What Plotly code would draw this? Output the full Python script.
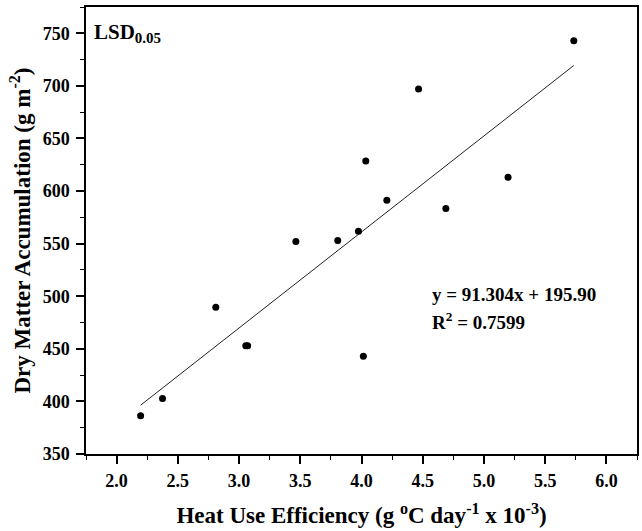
import plotly.graph_objects as go

# Data
heat_use_efficiency = [2.196, 2.375, 2.810, 3.055, 3.070, 3.464, 3.806, 3.975, 4.015, 4.035, 4.207, 4.466, 4.689, 5.197, 5.734]
dry_matter = [386.4, 402.8, 489.5, 453.0, 453.0, 552.0, 553.1, 561.8, 443.0, 628.5, 591.3, 697.0, 583.5, 613.1, 743.0]

# Regression line (from the equation shown in the chart)
fit_slope = 91.304
fit_intercept = 195.90
fit_x = [2.196, 5.734]
fit_y = [fit_slope * v + fit_intercept for v in fit_x]

x_ticks = [2.0, 2.5, 3.0, 3.5, 4.0, 4.5, 5.0, 5.5, 6.0]
y_ticks = [350, 400, 450, 500, 550, 600, 650, 700, 750]

FONT = "Liberation Serif"

fig = go.Figure()
fig.add_trace(go.Scatter(x=fit_x, y=fit_y, mode="lines",
                         line=dict(color="#222222", width=1), showlegend=False))
fig.add_trace(go.Scatter(x=heat_use_efficiency, y=dry_matter, mode="markers",
                         marker=dict(color="black", size=7), showlegend=False))

fig.add_annotation(x=0.011, xref="paper", y=750.7, yref="y",
                   text="<b>LSD<sub><span style='font-size:15px'>0.05</span></sub></b>", showarrow=False,
                   xanchor="left", yanchor="middle",
                   font=dict(family=FONT, size=21, color="black"))
fig.add_annotation(x=4.56, y=501.3, text="<b>y = 91.304x + 195.90</b>", showarrow=False,
                   xanchor="left", yanchor="middle",
                   font=dict(family=FONT, size=19, color="black"))
fig.add_annotation(x=4.56, y=476.6, text="<b>R<sup>2</sup> = 0.7599</b>", showarrow=False,
                   xanchor="left", yanchor="middle",
                   font=dict(family=FONT, size=19, color="black"))

axis_common = dict(showgrid=False, zeroline=False, showline=True, linecolor="black",
                   linewidth=1.5, mirror=True, ticks="outside", ticklen=8, tickwidth=1.5,
                   tickcolor="black",
                   tickfont=dict(family=FONT, size=18, color="black"))

fig.update_xaxes(range=[1.75, 6.25], tickvals=x_ticks,
                 ticktext=[f"<b>{v:.1f}</b>" for v in x_ticks],
                 ticklabelstandoff=2,
                 minor=dict(dtick=0.25, ticks="outside", ticklen=4, tickcolor="black", tickwidth=1.2),
                 title=dict(text="<b>Heat Use Efficiency (g <sup>o</sup>C day<sup>-1</sup> x 10<sup>-3</sup>)</b>",
                            font=dict(family=FONT, size=23, color="black"), standoff=17),
                 **axis_common)
fig.update_yaxes(range=[350, 775], tickvals=y_ticks,
                 ticktext=[f"<b>{v}</b>" for v in y_ticks],
                 ticklabelstandoff=3,
                 minor=dict(dtick=25, ticks="outside", ticklen=4, tickcolor="black", tickwidth=1.2),
                 title=dict(text="<b>Dry Matter Accumulation (g m<sup>-2</sup>)</b>",
                            font=dict(family=FONT, size=23, color="black"), standoff=6),
                 **axis_common)

fig.update_layout(width=642, height=531, plot_bgcolor="white", paper_bgcolor="white",
                  margin=dict(l=86, r=3, t=7, b=77))

fig.write_html("out.html", config={"displayModeBar": False},
               post_script="document.body.style.margin='0px';")
